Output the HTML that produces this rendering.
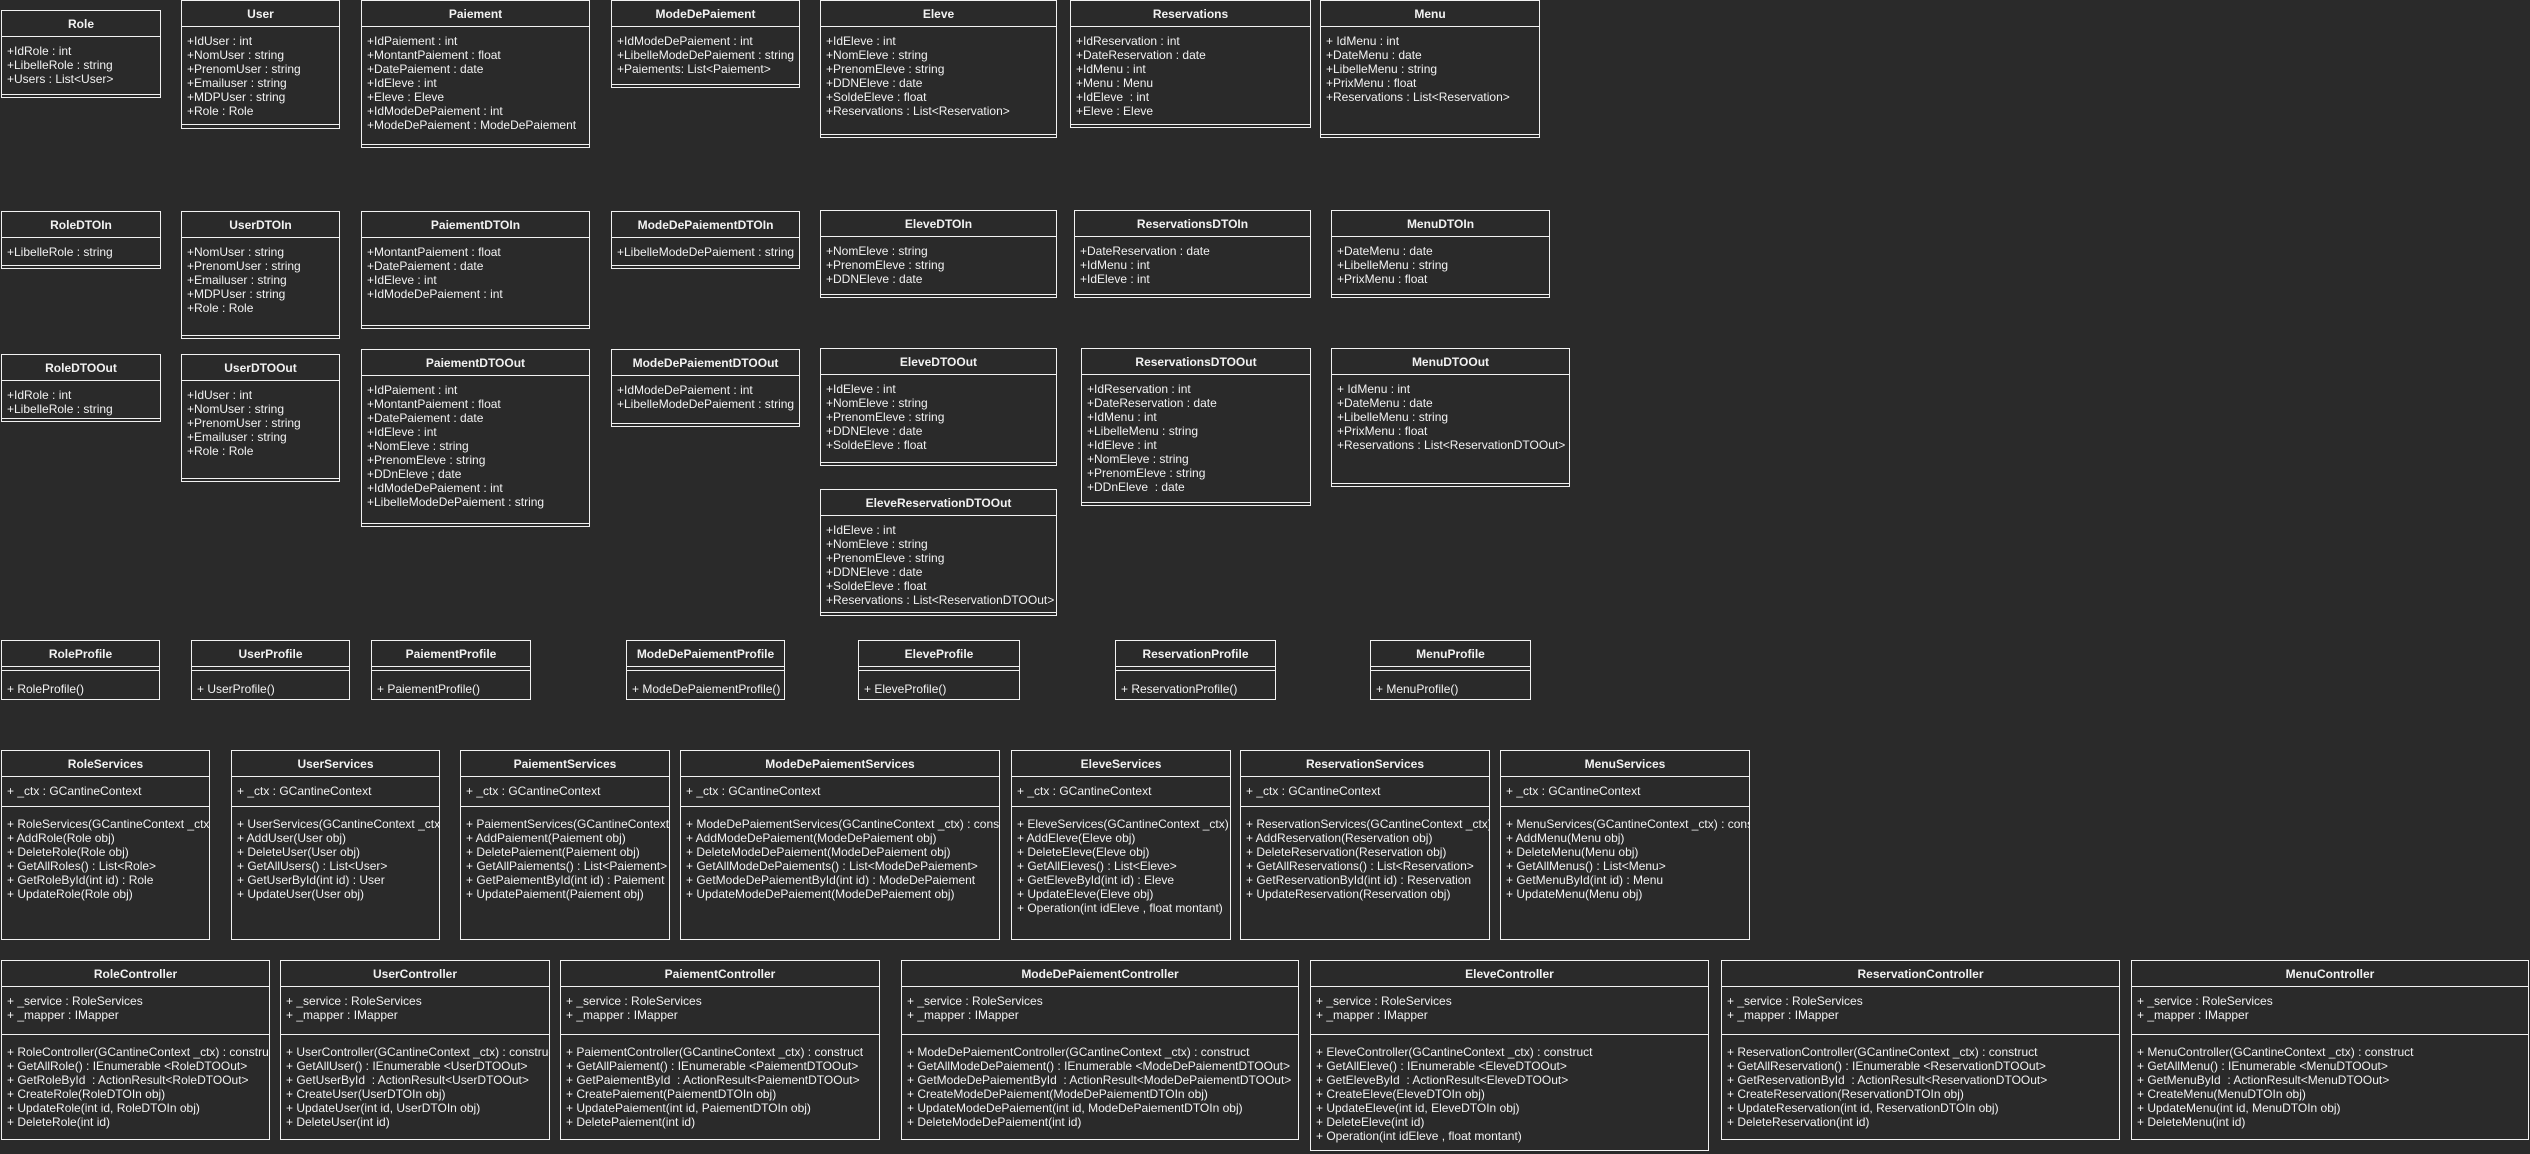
<!DOCTYPE html>
<html><head><meta charset="utf-8"><style>
body{margin:0;width:2530px;height:1154px;background:#2a2a2a;overflow:hidden;font-family:"Liberation Sans",Arial,sans-serif;color:#f2f2f2;position:relative}
.b{position:absolute;border:1px solid #f2f2f2;box-sizing:border-box;overflow:hidden}
.h{position:absolute;left:0;right:0;top:0;height:26px;line-height:26px;text-align:center;font-weight:bold;font-size:12px;white-space:nowrap}
.d{position:absolute;left:0;right:0;height:0;border-top:1px solid #f2f2f2}
.t{position:absolute;left:5px;font-size:12px;line-height:14px;white-space:pre}
</style></head><body>

<!-- Row 1 entities -->
<div class="b" style="left:1px;top:10px;width:160px;height:88px"><div class="h">Role</div><div class="d" style="top:25px"></div><div class="t" style="top:33px">+IdRole : int
+LibelleRole : string
+Users : List&lt;User&gt;</div><div class="d" style="top:83px"></div></div>

<div class="b" style="left:181px;top:0px;width:159px;height:129px"><div class="h">User</div><div class="d" style="top:25px"></div><div class="t" style="top:33px">+IdUser : int
+NomUser : string
+PrenomUser : string
+Emailuser : string
+MDPUser : string
+Role : Role</div><div class="d" style="top:123px"></div></div>

<div class="b" style="left:361px;top:0px;width:229px;height:148px"><div class="h">Paiement</div><div class="d" style="top:25px"></div><div class="t" style="top:33px">+IdPaiement : int
+MontantPaiement : float
+DatePaiement : date
+IdEleve : int
+Eleve : Eleve
+IdModeDePaiement : int
+ModeDePaiement : ModeDePaiement</div><div class="d" style="top:143px"></div></div>

<div class="b" style="left:611px;top:0px;width:189px;height:88px"><div class="h">ModeDePaiement</div><div class="d" style="top:25px"></div><div class="t" style="top:33px">+IdModeDePaiement : int
+LibelleModeDePaiement : string
+Paiements: List&lt;Paiement&gt;</div><div class="d" style="top:83px"></div></div>

<div class="b" style="left:820px;top:0px;width:237px;height:138px"><div class="h">Eleve</div><div class="d" style="top:25px"></div><div class="t" style="top:33px">+IdEleve : int
+NomEleve : string
+PrenomEleve : string
+DDNEleve : date
+SoldeEleve : float
+Reservations : List&lt;Reservation&gt;</div><div class="d" style="top:133px"></div></div>

<div class="b" style="left:1070px;top:0px;width:241px;height:128px"><div class="h">Reservations</div><div class="d" style="top:25px"></div><div class="t" style="top:33px">+IdReservation : int
+DateReservation : date
+IdMenu : int
+Menu : Menu
+IdEleve  : int
+Eleve : Eleve</div><div class="d" style="top:123px"></div></div>

<div class="b" style="left:1320px;top:0px;width:220px;height:138px"><div class="h">Menu</div><div class="d" style="top:25px"></div><div class="t" style="top:33px">+ IdMenu : int
+DateMenu : date
+LibelleMenu : string
+PrixMenu : float
+Reservations : List&lt;Reservation&gt;</div><div class="d" style="top:133px"></div></div>

<!-- DTOIn -->
<div class="b" style="left:1px;top:211px;width:160px;height:58px"><div class="h">RoleDTOIn</div><div class="d" style="top:25px"></div><div class="t" style="top:33px">+LibelleRole : string</div><div class="d" style="top:53px"></div></div>

<div class="b" style="left:181px;top:211px;width:159px;height:128px"><div class="h">UserDTOIn</div><div class="d" style="top:25px"></div><div class="t" style="top:33px">+NomUser : string
+PrenomUser : string
+Emailuser : string
+MDPUser : string
+Role : Role</div><div class="d" style="top:123px"></div></div>

<div class="b" style="left:361px;top:211px;width:229px;height:118px"><div class="h">PaiementDTOIn</div><div class="d" style="top:25px"></div><div class="t" style="top:33px">+MontantPaiement : float
+DatePaiement : date
+IdEleve : int
+IdModeDePaiement : int</div><div class="d" style="top:113px"></div></div>

<div class="b" style="left:611px;top:211px;width:189px;height:58px"><div class="h">ModeDePaiementDTOIn</div><div class="d" style="top:25px"></div><div class="t" style="top:33px">+LibelleModeDePaiement : string</div><div class="d" style="top:53px"></div></div>

<div class="b" style="left:820px;top:210px;width:237px;height:88px"><div class="h">EleveDTOIn</div><div class="d" style="top:25px"></div><div class="t" style="top:33px">+NomEleve : string
+PrenomEleve : string
+DDNEleve : date</div><div class="d" style="top:83px"></div></div>

<div class="b" style="left:1074px;top:210px;width:237px;height:88px"><div class="h">ReservationsDTOIn</div><div class="d" style="top:25px"></div><div class="t" style="top:33px">+DateReservation : date
+IdMenu : int
+IdEleve : int</div><div class="d" style="top:83px"></div></div>

<div class="b" style="left:1331px;top:210px;width:219px;height:88px"><div class="h">MenuDTOIn</div><div class="d" style="top:25px"></div><div class="t" style="top:33px">+DateMenu : date
+LibelleMenu : string
+PrixMenu : float</div><div class="d" style="top:83px"></div></div>

<!-- DTOOut -->
<div class="b" style="left:1px;top:354px;width:160px;height:68px"><div class="h">RoleDTOOut</div><div class="d" style="top:25px"></div><div class="t" style="top:33px">+IdRole : int
+LibelleRole : string</div><div class="d" style="top:63px"></div></div>

<div class="b" style="left:181px;top:354px;width:159px;height:128px"><div class="h">UserDTOOut</div><div class="d" style="top:25px"></div><div class="t" style="top:33px">+IdUser : int
+NomUser : string
+PrenomUser : string
+Emailuser : string
+Role : Role</div><div class="d" style="top:123px"></div></div>

<div class="b" style="left:361px;top:349px;width:229px;height:178px"><div class="h">PaiementDTOOut</div><div class="d" style="top:25px"></div><div class="t" style="top:33px">+IdPaiement : int
+MontantPaiement : float
+DatePaiement : date
+IdEleve : int
+NomEleve : string
+PrenomEleve : string
+DDnEleve ; date
+IdModeDePaiement : int
+LibelleModeDePaiement : string</div><div class="d" style="top:173px"></div></div>

<div class="b" style="left:611px;top:349px;width:189px;height:78px"><div class="h">ModeDePaiementDTOOut</div><div class="d" style="top:25px"></div><div class="t" style="top:33px">+IdModeDePaiement : int
+LibelleModeDePaiement : string</div><div class="d" style="top:73px"></div></div>

<div class="b" style="left:820px;top:348px;width:237px;height:118px"><div class="h">EleveDTOOut</div><div class="d" style="top:25px"></div><div class="t" style="top:33px">+IdEleve : int
+NomEleve : string
+PrenomEleve : string
+DDNEleve : date
+SoldeEleve : float</div><div class="d" style="top:113px"></div></div>

<div class="b" style="left:1081px;top:348px;width:230px;height:158px"><div class="h">ReservationsDTOOut</div><div class="d" style="top:25px"></div><div class="t" style="top:33px">+IdReservation : int
+DateReservation : date
+IdMenu : int
+LibelleMenu : string
+IdEleve : int
+NomEleve : string
+PrenomEleve : string
+DDnEleve  : date</div><div class="d" style="top:153px"></div></div>

<div class="b" style="left:1331px;top:348px;width:239px;height:139px"><div class="h">MenuDTOOut</div><div class="d" style="top:25px"></div><div class="t" style="top:33px">+ IdMenu : int
+DateMenu : date
+LibelleMenu : string
+PrixMenu : float
+Reservations : List&lt;ReservationDTOOut&gt;</div><div class="d" style="top:134px"></div></div>

<div class="b" style="left:820px;top:489px;width:237px;height:127px"><div class="h">EleveReservationDTOOut</div><div class="d" style="top:25px"></div><div class="t" style="top:33px">+IdEleve : int
+NomEleve : string
+PrenomEleve : string
+DDNEleve : date
+SoldeEleve : float
+Reservations : List&lt;ReservationDTOOut&gt;</div><div class="d" style="top:122px"></div></div>

<!-- Profiles -->
<div class="b" style="left:1px;top:640px;width:159px;height:60px"><div class="h">RoleProfile</div><div class="d" style="top:25px"></div><div class="d" style="top:29px"></div><div class="t" style="top:41px">+ RoleProfile()</div></div>
<div class="b" style="left:191px;top:640px;width:159px;height:60px"><div class="h">UserProfile</div><div class="d" style="top:25px"></div><div class="d" style="top:29px"></div><div class="t" style="top:41px">+ UserProfile()</div></div>
<div class="b" style="left:371px;top:640px;width:160px;height:60px"><div class="h">PaiementProfile</div><div class="d" style="top:25px"></div><div class="d" style="top:29px"></div><div class="t" style="top:41px">+ PaiementProfile()</div></div>
<div class="b" style="left:626px;top:640px;width:159px;height:60px"><div class="h">ModeDePaiementProfile</div><div class="d" style="top:25px"></div><div class="d" style="top:29px"></div><div class="t" style="top:41px">+ ModeDePaiementProfile()</div></div>
<div class="b" style="left:858px;top:640px;width:162px;height:60px"><div class="h">EleveProfile</div><div class="d" style="top:25px"></div><div class="d" style="top:29px"></div><div class="t" style="top:41px">+ EleveProfile()</div></div>
<div class="b" style="left:1115px;top:640px;width:161px;height:60px"><div class="h">ReservationProfile</div><div class="d" style="top:25px"></div><div class="d" style="top:29px"></div><div class="t" style="top:41px">+ ReservationProfile()</div></div>
<div class="b" style="left:1370px;top:640px;width:161px;height:60px"><div class="h">MenuProfile</div><div class="d" style="top:25px"></div><div class="d" style="top:29px"></div><div class="t" style="top:41px">+ MenuProfile()</div></div>

<!-- Services -->
<div class="b" style="left:1px;top:750px;width:209px;height:190px"><div class="h">RoleServices</div><div class="d" style="top:25px"></div><div class="t" style="top:33px">+ _ctx : GCantineContext</div><div class="d" style="top:55px"></div><div class="t" style="top:66px">+ RoleServices(GCantineContext _ctx) : constructor
+ AddRole(Role obj)
+ DeleteRole(Role obj)
+ GetAllRoles() : List&lt;Role&gt;
+ GetRoleById(int id) : Role
+ UpdateRole(Role obj)</div></div>

<div class="b" style="left:231px;top:750px;width:209px;height:190px"><div class="h">UserServices</div><div class="d" style="top:25px"></div><div class="t" style="top:33px">+ _ctx : GCantineContext</div><div class="d" style="top:55px"></div><div class="t" style="top:66px">+ UserServices(GCantineContext _ctx) : constructor
+ AddUser(User obj)
+ DeleteUser(User obj)
+ GetAllUsers() : List&lt;User&gt;
+ GetUserById(int id) : User
+ UpdateUser(User obj)</div></div>

<div class="b" style="left:460px;top:750px;width:210px;height:190px"><div class="h">PaiementServices</div><div class="d" style="top:25px"></div><div class="t" style="top:33px">+ _ctx : GCantineContext</div><div class="d" style="top:55px"></div><div class="t" style="top:66px">+ PaiementServices(GCantineContext _ctx) : constructor
+ AddPaiement(Paiement obj)
+ DeletePaiement(Paiement obj)
+ GetAllPaiements() : List&lt;Paiement&gt;
+ GetPaiementById(int id) : Paiement
+ UpdatePaiement(Paiement obj)</div></div>

<div class="b" style="left:680px;top:750px;width:320px;height:190px"><div class="h">ModeDePaiementServices</div><div class="d" style="top:25px"></div><div class="t" style="top:33px">+ _ctx : GCantineContext</div><div class="d" style="top:55px"></div><div class="t" style="top:66px">+ ModeDePaiementServices(GCantineContext _ctx) : constructor
+ AddModeDePaiement(ModeDePaiement obj)
+ DeleteModeDePaiement(ModeDePaiement obj)
+ GetAllModeDePaiements() : List&lt;ModeDePaiement&gt;
+ GetModeDePaiementById(int id) : ModeDePaiement
+ UpdateModeDePaiement(ModeDePaiement obj)</div></div>

<div class="b" style="left:1011px;top:750px;width:220px;height:190px"><div class="h">EleveServices</div><div class="d" style="top:25px"></div><div class="t" style="top:33px">+ _ctx : GCantineContext</div><div class="d" style="top:55px"></div><div class="t" style="top:66px">+ EleveServices(GCantineContext _ctx) : constructor
+ AddEleve(Eleve obj)
+ DeleteEleve(Eleve obj)
+ GetAllEleves() : List&lt;Eleve&gt;
+ GetEleveById(int id) : Eleve
+ UpdateEleve(Eleve obj)
+ Operation(int idEleve , float montant)</div></div>

<div class="b" style="left:1240px;top:750px;width:250px;height:190px"><div class="h">ReservationServices</div><div class="d" style="top:25px"></div><div class="t" style="top:33px">+ _ctx : GCantineContext</div><div class="d" style="top:55px"></div><div class="t" style="top:66px">+ ReservationServices(GCantineContext _ctx) : constructor
+ AddReservation(Reservation obj)
+ DeleteReservation(Reservation obj)
+ GetAllReservations() : List&lt;Reservation&gt;
+ GetReservationById(int id) : Reservation
+ UpdateReservation(Reservation obj)</div></div>

<div class="b" style="left:1500px;top:750px;width:250px;height:190px"><div class="h">MenuServices</div><div class="d" style="top:25px"></div><div class="t" style="top:33px">+ _ctx : GCantineContext</div><div class="d" style="top:55px"></div><div class="t" style="top:66px">+ MenuServices(GCantineContext _ctx) : constructor
+ AddMenu(Menu obj)
+ DeleteMenu(Menu obj)
+ GetAllMenus() : List&lt;Menu&gt;
+ GetMenuById(int id) : Menu
+ UpdateMenu(Menu obj)</div></div>

<!-- Controllers -->
<div class="b" style="left:1px;top:960px;width:269px;height:180px"><div class="h">RoleController</div><div class="d" style="top:25px"></div><div class="t" style="top:33px">+ _service : RoleServices
+ _mapper : IMapper</div><div class="d" style="top:73px"></div><div class="t" style="top:84px">+ RoleController(GCantineContext _ctx) : construct
+ GetAllRole() : IEnumerable &lt;RoleDTOOut&gt;
+ GetRoleById  : ActionResult&lt;RoleDTOOut&gt;
+ CreateRole(RoleDTOIn obj)
+ UpdateRole(int id, RoleDTOIn obj)
+ DeleteRole(int id)</div></div>

<div class="b" style="left:280px;top:960px;width:270px;height:180px"><div class="h">UserController</div><div class="d" style="top:25px"></div><div class="t" style="top:33px">+ _service : RoleServices
+ _mapper : IMapper</div><div class="d" style="top:73px"></div><div class="t" style="top:84px">+ UserController(GCantineContext _ctx) : construct
+ GetAllUser() : IEnumerable &lt;UserDTOOut&gt;
+ GetUserById  : ActionResult&lt;UserDTOOut&gt;
+ CreateUser(UserDTOIn obj)
+ UpdateUser(int id, UserDTOIn obj)
+ DeleteUser(int id)</div></div>

<div class="b" style="left:560px;top:960px;width:320px;height:180px"><div class="h">PaiementController</div><div class="d" style="top:25px"></div><div class="t" style="top:33px">+ _service : RoleServices
+ _mapper : IMapper</div><div class="d" style="top:73px"></div><div class="t" style="top:84px">+ PaiementController(GCantineContext _ctx) : construct
+ GetAllPaiement() : IEnumerable &lt;PaiementDTOOut&gt;
+ GetPaiementById  : ActionResult&lt;PaiementDTOOut&gt;
+ CreatePaiement(PaiementDTOIn obj)
+ UpdatePaiement(int id, PaiementDTOIn obj)
+ DeletePaiement(int id)</div></div>

<div class="b" style="left:901px;top:960px;width:398px;height:180px"><div class="h">ModeDePaiementController</div><div class="d" style="top:25px"></div><div class="t" style="top:33px">+ _service : RoleServices
+ _mapper : IMapper</div><div class="d" style="top:73px"></div><div class="t" style="top:84px">+ ModeDePaiementController(GCantineContext _ctx) : construct
+ GetAllModeDePaiement() : IEnumerable &lt;ModeDePaiementDTOOut&gt;
+ GetModeDePaiementById  : ActionResult&lt;ModeDePaiementDTOOut&gt;
+ CreateModeDePaiement(ModeDePaiementDTOIn obj)
+ UpdateModeDePaiement(int id, ModeDePaiementDTOIn obj)
+ DeleteModeDePaiement(int id)</div></div>

<div class="b" style="left:1310px;top:960px;width:399px;height:191px"><div class="h">EleveController</div><div class="d" style="top:25px"></div><div class="t" style="top:33px">+ _service : RoleServices
+ _mapper : IMapper</div><div class="d" style="top:73px"></div><div class="t" style="top:84px">+ EleveController(GCantineContext _ctx) : construct
+ GetAllEleve() : IEnumerable &lt;EleveDTOOut&gt;
+ GetEleveById  : ActionResult&lt;EleveDTOOut&gt;
+ CreateEleve(EleveDTOIn obj)
+ UpdateEleve(int id, EleveDTOIn obj)
+ DeleteEleve(int id)
+ Operation(int idEleve , float montant)</div></div>

<div class="b" style="left:1721px;top:960px;width:399px;height:180px"><div class="h">ReservationController</div><div class="d" style="top:25px"></div><div class="t" style="top:33px">+ _service : RoleServices
+ _mapper : IMapper</div><div class="d" style="top:73px"></div><div class="t" style="top:84px">+ ReservationController(GCantineContext _ctx) : construct
+ GetAllReservation() : IEnumerable &lt;ReservationDTOOut&gt;
+ GetReservationById  : ActionResult&lt;ReservationDTOOut&gt;
+ CreateReservation(ReservationDTOIn obj)
+ UpdateReservation(int id, ReservationDTOIn obj)
+ DeleteReservation(int id)</div></div>

<div class="b" style="left:2131px;top:960px;width:398px;height:180px"><div class="h">MenuController</div><div class="d" style="top:25px"></div><div class="t" style="top:33px">+ _service : RoleServices
+ _mapper : IMapper</div><div class="d" style="top:73px"></div><div class="t" style="top:84px">+ MenuController(GCantineContext _ctx) : construct
+ GetAllMenu() : IEnumerable &lt;MenuDTOOut&gt;
+ GetMenuById  : ActionResult&lt;MenuDTOOut&gt;
+ CreateMenu(MenuDTOIn obj)
+ UpdateMenu(int id, MenuDTOIn obj)
+ DeleteMenu(int id)</div></div>

</body></html>
